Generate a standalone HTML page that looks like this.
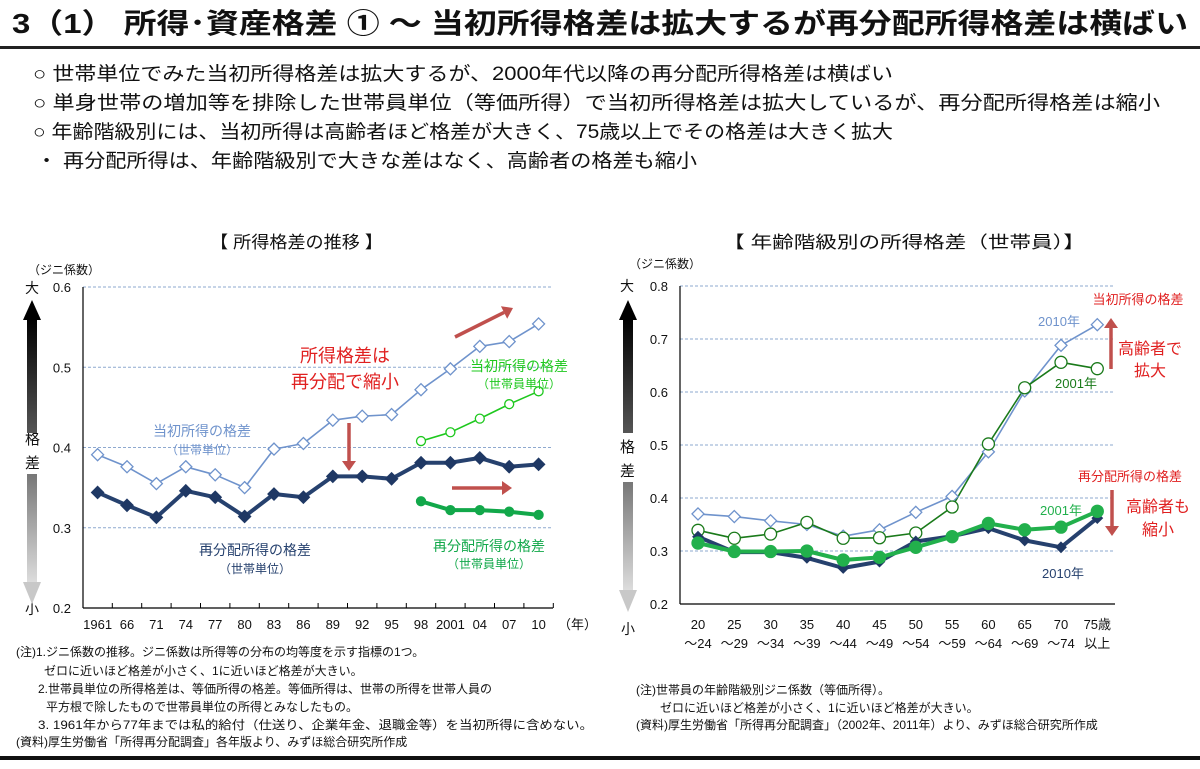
<!DOCTYPE html>
<html><head><meta charset="utf-8"><style>
html,body{margin:0;padding:0;background:#fff;}
svg{display:block;font-family:"Liberation Sans","Noto Sans CJK JP",sans-serif;}
</style></head><body>
<svg id="s" width="1200" height="769" viewBox="0 0 1200 769" xmlns="http://www.w3.org/2000/svg">
<defs>
<linearGradient id="gUp" x1="0" y1="0" x2="0" y2="1"><stop offset="0" stop-color="#000"/><stop offset="1" stop-color="#555"/></linearGradient>
<linearGradient id="gDn" x1="0" y1="0" x2="0" y2="1"><stop offset="0" stop-color="#777"/><stop offset="1" stop-color="#e0e0e0"/></linearGradient>
</defs>
<text x="12" y="33" font-size="28" font-weight="bold" fill="#111" textLength="1176" lengthAdjust="spacingAndGlyphs">3（1） 所得･資産格差 ① ～ 当初所得格差は拡大するが再分配所得格差は横ばい</text>
<rect x="0" y="46" width="1200" height="3" fill="#222"/>
<g font-size="19" fill="#111">
<text x="33" y="80" textLength="860" lengthAdjust="spacingAndGlyphs">○ 世帯単位でみた当初所得格差は拡大するが、2000年代以降の再分配所得格差は横ばい</text>
<text x="33" y="109" textLength="1127" lengthAdjust="spacingAndGlyphs">○ 単身世帯の増加等を排除した世帯員単位（等価所得）で当初所得格差は拡大しているが、再分配所得格差は縮小</text>
<text x="33" y="138" textLength="860" lengthAdjust="spacingAndGlyphs">○ 年齢階級別には、当初所得は高齢者ほど格差が大きく、75歳以上でその格差は大きく拡大</text>
<text x="36" y="167" textLength="661" lengthAdjust="spacingAndGlyphs">・ 再分配所得は、年齢階級別で大きな差はなく、高齢者の格差も縮小</text>
</g>
<text x="210" y="248" font-size="17" fill="#111" textLength="173" lengthAdjust="spacingAndGlyphs">【 所得格差の推移 】</text>
<text x="723" y="248" font-size="17" fill="#111" textLength="362" lengthAdjust="spacingAndGlyphs">【 年齢階級別の所得格差（世帯員）】</text>

<g id="L"></g>
<g id="R"></g>

<g font-size="12" fill="#111">
<text x="16" y="656">(注)1.ジニ係数の推移。ジニ係数は所得等の分布の均等度を示す指標の1つ。</text>
<text x="44" y="675">ゼロに近いほど格差が小さく、1に近いほど格差が大きい。</text>
<text x="38" y="693">2.世帯員単位の所得格差は、等価所得の格差。等価所得は、世帯の所得を世帯人員の</text>
<text x="46" y="711">平方根で除したもので世帯員単位の所得とみなしたもの。</text>
<text x="38" y="729" textLength="555" lengthAdjust="spacingAndGlyphs">3. 1961年から77年までは私的給付（仕送り、企業年金、退職金等）を当初所得に含めない。</text>
<text x="16" y="746">(資料)厚生労働省「所得再分配調査」各年版より、みずほ総合研究所作成</text>
</g>
<g font-size="12" fill="#111">
<text x="636" y="694">(注)世帯員の年齢階級別ジニ係数（等価所得）。</text>
<text x="660" y="712">ゼロに近いほど格差が小さく、1に近いほど格差が大きい。</text>
<text x="636" y="729">(資料)厚生労働省「所得再分配調査」（2002年、2011年）より、みずほ総合研究所作成</text>
</g>
<rect x="0" y="756" width="1200" height="4" fill="#111"/>
</svg>
<script>
// ---- Left chart data ----
const yearLabels = ["1961","66","71","74","77","80","83","86","89","92","95","98","2001","04","07","10"];
const leftYTicks = [0.2,0.3,0.4,0.5,0.6];
const initialHousehold = [0.391,0.376,0.355,0.376,0.366,0.350,0.398,0.405,0.434,0.439,0.441,0.472,0.498,0.526,0.532,0.554];
const redistHousehold = [0.344,0.328,0.313,0.346,0.338,0.314,0.342,0.338,0.364,0.364,0.361,0.381,0.381,0.387,0.376,0.379];
const initialMember = [0.408,0.419,0.436,0.454,0.470];
const redistMember = [0.333,0.322,0.322,0.320,0.316];
const memberStartIndex = 11;
// ---- Right chart data ----
const ageTop = ["20","25","30","35","40","45","50","55","60","65","70","75歳"];
const ageBottom = ["～24","～29","～34","～39","～44","～49","～54","～59","～64","～69","～74","以上"];
const rightYTicks = [0.2,0.3,0.4,0.5,0.6,0.7,0.8];
const initial2010 = [0.370,0.365,0.357,0.350,0.328,0.340,0.373,0.403,0.487,0.602,0.688,0.727];
const initial2001 = [0.339,0.324,0.332,0.354,0.324,0.325,0.334,0.383,0.502,0.608,0.656,0.644];
const redist2010 = [0.327,0.298,0.298,0.287,0.268,0.280,0.318,0.328,0.343,0.320,0.307,0.362];
const redist2001 = [0.315,0.299,0.299,0.300,0.283,0.288,0.307,0.327,0.352,0.340,0.345,0.375];

const NS="http://www.w3.org/2000/svg";
function mk(parent,tag,attrs,txt){const e=document.createElementNS(NS,tag);for(const k in attrs)e.setAttribute(k,attrs[k]);if(txt!==undefined)e.textContent=txt;parent.appendChild(e);return e;}

// axes
const LX0=83, LX1=553, RX0=680, RX1=1115;
const lx=i=>97.6+i*29.4, ly=v=>287+(0.6-v)*802.5;
const rx=i=>698+i*36.3, ry=v=>286+(0.8-v)*530;

function line(g,xs,ys,vals,off,color,w,name){
  const pts=vals.map((v,i)=>xs(i+off).toFixed(1)+","+ys(v).toFixed(1)).join(" ");
  const p=mk(g,"polyline",{points:pts,fill:"none",stroke:color,"stroke-width":w,"stroke-linejoin":"round"});
  
  
}
function markers(g,xs,ys,vals,off,shape,fill,stroke,r,name){
  vals.forEach((v,i)=>{
    const x=xs(i+off), y=ys(v); let m;
    if(shape==="d") m=mk(g,"polygon",{points:`${x},${y-r} ${x+r},${y} ${x},${y+r} ${x-r},${y}`,fill:fill,stroke:stroke,"stroke-width":1.3});
    else m=mk(g,"circle",{cx:x,cy:y,r:r,fill:fill,stroke:stroke,"stroke-width":1.3});
    
    
  });
}
function arrowV(g,x,y1,y2,name){
  const a=mk(g,"g",{});
  
  
  mk(a,"rect",{x:x-5,y:y1+18,width:10,height:115,fill:"url(#gUp)"});
  mk(a,"polygon",{points:`${x},${y1} ${x+9},${y1+20} ${x-9},${y1+20}`,fill:"#000"});
  mk(a,"rect",{x:x-5,y:y2-130,width:10,height:112,fill:"url(#gDn)"});
  mk(a,"polygon",{points:`${x},${y2} ${x+9},${y2-22} ${x-9},${y2-22}`,fill:"#c8c8c8"});
}
function redArrow(g,x1,y1,x2,y2,name){
  const a=mk(g,"g",{});
  
  
  const dx=x2-x1,dy=y2-y1,L=Math.hypot(dx,dy),ux=dx/L,uy=dy/L;
  const bx=x2-ux*10,by=y2-uy*10;
  mk(a,"line",{x1:x1,y1:y1,x2:bx,y2:by,stroke:"#c0504d","stroke-width":3.5});
  mk(a,"polygon",{points:`${x2},${y2} ${bx-uy*7},${by+ux*7} ${bx+uy*7},${by-ux*7}`,fill:"#c0504d"});
}

// ---------- LEFT ----------
const L=document.getElementById("L");
leftYTicks.forEach(v=>{
  if(v>0.2){const gl=mk(L,"line",{x1:LX0,x2:LX1,y1:ly(v),y2:ly(v),stroke:"#8ea9cf","stroke-width":1,"stroke-dasharray":"3,2"});
  }
  const t=mk(L,"text",{x:71,y:ly(v)+5,"font-size":13,"text-anchor":"end",fill:"#111"},v.toFixed(1));
  
});
mk(L,"line",{x1:LX0,x2:LX0,y1:287,y2:608,stroke:"#000","stroke-width":1.2});
mk(L,"line",{x1:LX0,x2:LX1,y1:608,y2:608,stroke:"#000","stroke-width":1.2});
yearLabels.forEach((s,i)=>{
  const tk=mk(L,"line",{x1:lx(i)+14.7,x2:lx(i)+14.7,y1:603,y2:608,stroke:"#000"});
  
  const t=mk(L,"text",{x:lx(i),y:629,"font-size":13,"text-anchor":"middle",fill:"#111"},s);
  
});
mk(L,"text",{x:558,y:629,"font-size":13,fill:"#111",},"（年）");
mk(L,"text",{x:28,y:274,"font-size":12,fill:"#111",},"（ジニ係数）");
mk(L,"text",{x:25,y:293,"font-size":14,fill:"#111"},"大");
mk(L,"text",{x:25,y:444,"font-size":15,fill:"#111"},"格");
mk(L,"text",{x:25,y:468,"font-size":15,fill:"#111"},"差");
mk(L,"text",{x:25,y:614,"font-size":14,fill:"#111"},"小");
arrowV(L,32,300,604,"left-scale-arrow");

line(L,lx,ly,initialHousehold,0,"#6f93cc",1.6,"initial-household");
line(L,lx,ly,redistHousehold,0,"#26416e",4,"redist-household");
line(L,lx,ly,initialMember,memberStartIndex,"#1ec81e",1.6,"initial-member");
line(L,lx,ly,redistMember,memberStartIndex,"#12a84a",4,"redist-member");
markers(L,lx,ly,initialHousehold,0,"d","#fff","#6f93cc",6,"initial-household");
markers(L,lx,ly,redistHousehold,0,"d","#1f3864","#1f3864",6,"redist-household");
markers(L,lx,ly,initialMember,memberStartIndex,"c","#fff","#1ec81e",4.5,"initial-member");
markers(L,lx,ly,redistMember,memberStartIndex,"c","#12a84a","#12a84a",4.5,"redist-member");

const la=[["当初所得の格差",202,436,"#6f93cc",14,"initial-household-label"],["（世帯単位）",202,454,"#6f93cc",12,"initial-household-sub"],
["再分配所得の格差",255,555,"#26416e",14,"redist-household-label"],["（世帯単位）",255,573,"#26416e",12,"redist-household-sub"],
["所得格差は",345,362,"#e02020",18,"callout-1"],["再分配で縮小",345,388,"#e02020",18,"callout-2"],
["当初所得の格差",519,371,"#1ec81e",14,"initial-member-label"],["（世帯員単位）",519,388,"#1ec81e",12,"initial-member-sub"],
["再分配所得の格差",489,551,"#12a84a",14,"redist-member-label"],["（世帯員単位）",489,568,"#12a84a",12,"redist-member-sub"]];
la.forEach(a=>{const t=mk(L,"text",{x:a[1],y:a[2],"text-anchor":"middle","font-size":a[4],fill:a[3]},a[0]);
  });
redArrow(L,455,337,513,308,"rising-arrow");
redArrow(L,349,423,349,471,"down-arrow");
redArrow(L,452,488,512,488,"flat-arrow");

// ---------- RIGHT ----------
const R=document.getElementById("R");
rightYTicks.forEach(v=>{
  if(v>0.2){const gl=mk(R,"line",{x1:RX0,x2:RX1,y1:ry(v),y2:ry(v),stroke:"#8ea9cf","stroke-width":1,"stroke-dasharray":"3,2"});
  }
  const t=mk(R,"text",{x:668,y:ry(v)+5,"font-size":13,"text-anchor":"end",fill:"#111"},v.toFixed(1));
  
});
mk(R,"line",{x1:RX0,x2:RX0,y1:286,y2:604,stroke:"#000","stroke-width":1.2});
mk(R,"line",{x1:RX0,x2:RX1,y1:604,y2:604,stroke:"#000","stroke-width":1.2});
ageTop.forEach((s,i)=>{
  const t=mk(R,"text",{x:rx(i),y:629,"font-size":13,"text-anchor":"middle",fill:"#111"},s);
  
  const t2=mk(R,"text",{x:rx(i),y:648,"font-size":13,"text-anchor":"middle",fill:"#111"},ageBottom[i]);
  
});
mk(R,"text",{x:629,y:268,"font-size":12,fill:"#111",},"（ジニ係数）");
mk(R,"text",{x:620,y:291,"font-size":14,fill:"#111"},"大");
mk(R,"text",{x:620,y:452,"font-size":15,fill:"#111"},"格");
mk(R,"text",{x:620,y:476,"font-size":15,fill:"#111"},"差");
mk(R,"text",{x:621,y:634,"font-size":14,fill:"#111"},"小");
arrowV(R,628,300,612,"right-scale-arrow");

line(R,rx,ry,initial2010,0,"#6f93cc",1.6,"initial-2010");
line(R,rx,ry,initial2001,0,"#1a7a1a",1.6,"initial-2001");
line(R,rx,ry,redist2010,0,"#26416e",4,"redist-2010");
line(R,rx,ry,redist2001,0,"#22b04c",4,"redist-2001");
markers(R,rx,ry,initial2010,0,"d","#fff","#6f93cc",6,"initial-2010");
markers(R,rx,ry,initial2001,0,"c","#fff","#1a7a1a",6,"initial-2001");
markers(R,rx,ry,redist2010,0,"d","#1f3864","#1f3864",5,"redist-2010");
markers(R,rx,ry,redist2001,0,"c","#22b04c","#22b04c",6,"redist-2001");

const ra=[["2010年",1059,326,"#6f93cc",13,"initial-2010-label"],["2001年",1076,388,"#1a7a1a",13,"initial-2001-label"],
["当初所得の格差",1138,304,"#e02020",13,"initial-note-label"],["高齢者で",1150,354,"#e02020",16,"expand-note-1"],["拡大",1150,376,"#e02020",16,"expand-note-2"],
["再分配所得の格差",1130,481,"#e02020",13,"redist-note-label"],["2001年",1061,515,"#22b04c",13,"redist-2001-label"],
["高齢者も",1158,512,"#e02020",16,"shrink-note-1"],["縮小",1158,535,"#e02020",16,"shrink-note-2"],
["2010年",1063,578,"#26416e",13,"redist-2010-label"]];
ra.forEach(a=>{const t=mk(R,"text",{x:a[1],y:a[2],"text-anchor":"middle","font-size":a[4],fill:a[3]},a[0]);
  });
redArrow(R,1111,369,1111,318,"expand-arrow");
redArrow(R,1112,490,1112,536,"shrink-arrow");
</script>
</body></html>
